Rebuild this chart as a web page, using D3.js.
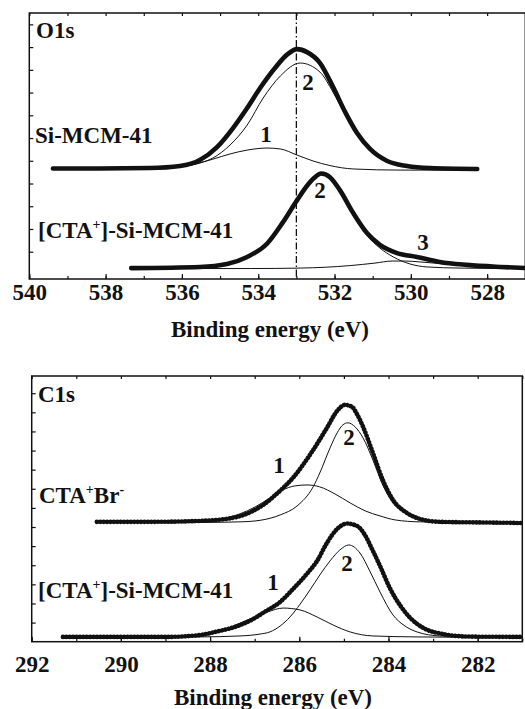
<!DOCTYPE html>
<html>
<head>
<meta charset="utf-8">
<script src="https://cdn.jsdelivr.net/npm/d3@7"></script>
<style>
  html, body { margin: 0; padding: 0; background: #fff; }
  svg { display: block; }
  .lbl { font-family: "Liberation Serif", "Times New Roman", serif; font-weight: bold; font-size: 23px; fill: #111; }
  .tick text { font-family: "Liberation Serif", "Times New Roman", serif; font-weight: bold; font-size: 23px; fill: #111; }
</style>
</head>
<body>
<script>
"use strict";

// ---- data: [binding energy (eV), intensity (a.u., offset per spectrum)] ----
var o1sTickLabels = [540, 538, 536, 534, 532, 530, 528];
var c1sTickLabels = [292, 290, 288, 286, 284, 282];
var o1sRefEnergy = 533;

var o1sSiMcm = [[539.38,4.66],[538.15,4.66],[536.84,4.68],[536.05,4.77],[535.53,5.03],[535.08,5.60],[534.66,6.44],[534.29,7.32],[533.95,8.20],[533.56,9.08],[533.23,9.69],[532.98,9.91],[532.72,9.78],[532.38,9.30],[532.04,8.25],[531.72,7.14],[531.41,6.22],[531.07,5.52],[530.62,4.99],[530.10,4.77],[529.50,4.68],[528.26,4.64]];
var o1sSiMcmPeak1 = [[539.38,4.64],[536.84,4.65],[536.05,4.73],[535.19,5.07],[534.74,5.30],[534.29,5.47],[533.77,5.56],[533.42,5.52],[532.98,5.25],[532.56,4.99],[532.12,4.79],[531.51,4.64],[530.28,4.59],[528.26,4.59]];
var o1sSiMcmPeak2 = [[539.38,4.64],[536.84,4.64],[536.05,4.73],[535.53,4.90],[535.19,5.12],[534.74,5.69],[534.29,6.57],[533.87,7.76],[533.42,8.73],[532.90,9.30],[532.38,8.90],[532.04,8.02],[531.72,7.01],[531.41,6.13],[531.07,5.47],[530.62,4.99],[530.10,4.77],[529.50,4.66],[528.26,4.64]];

var o1sCta = [[537.33,0.28],[535.53,0.33],[534.82,0.46],[534.29,0.77],[533.77,1.35],[533.35,2.30],[532.98,3.27],[532.72,3.90],[532.53,4.25],[532.35,4.44],[532.12,4.28],[531.86,3.71],[531.51,2.70],[531.15,1.82],[530.81,1.30],[530.36,0.94],[529.84,0.77],[529.24,0.55],[528.53,0.42],[527.66,0.33],[526.98,0.28]];
var o1sCtaPeak2 = [[537.33,0.26],[535.53,0.31],[534.82,0.44],[534.29,0.75],[533.77,1.33],[533.35,2.28],[532.98,3.25],[532.72,3.87],[532.53,4.21],[532.35,4.40],[532.12,4.24],[531.86,3.67],[531.51,2.66],[531.15,1.73],[530.81,1.16],[530.46,0.77],[530.02,0.46],[529.58,0.33],[528.71,0.28],[526.98,0.26]];
var o1sCtaPeak3 = [[537.33,0.26],[534.21,0.26],[532.90,0.28],[531.59,0.39],[530.94,0.50],[530.49,0.59],[530.15,0.59],[529.76,0.55],[529.24,0.48],[528.53,0.37],[527.66,0.31],[526.98,0.27]];

var c1sCtaBr = [[290.54,6.27],[289.35,6.27],[288.23,6.32],[287.49,6.48],[287.18,6.69],[286.81,7.16],[286.43,7.90],[286.14,8.58],[285.76,9.78],[285.38,11.19],[285.15,12.08],[284.98,12.39],[284.82,12.29],[284.71,11.92],[284.57,11.24],[284.35,9.88],[284.13,8.47],[283.90,7.42],[283.59,6.74],[283.29,6.42],[282.85,6.27],[281.95,6.24],[281.00,6.21]];
var c1sCtaBrPeak1 = [[290.54,6.24],[288.67,6.27],[287.78,6.42],[287.33,6.69],[286.99,7.05],[286.66,7.52],[286.37,7.94],[286.10,8.15],[285.83,8.20],[285.54,8.10],[285.20,7.73],[284.86,7.26],[284.52,6.84],[284.19,6.58],[283.85,6.37],[283.29,6.27],[281.00,6.24]];
var c1sCtaBrPeak2 = [[290.54,6.24],[288.23,6.24],[287.33,6.27],[286.88,6.35],[286.43,6.63],[286.05,7.10],[285.69,8.10],[285.54,8.83],[285.31,10.14],[285.15,10.93],[285.02,11.35],[284.91,11.45],[284.75,11.24],[284.57,10.66],[284.35,9.51],[284.13,8.20],[283.90,7.26],[283.59,6.69],[283.29,6.37],[282.85,6.27],[281.00,6.24]];

var c1sCtaMcm = [[291.30,0.25],[288.97,0.25],[288.23,0.35],[287.85,0.53],[287.49,0.74],[287.11,1.09],[286.77,1.57],[286.43,2.08],[286.14,2.76],[285.83,3.55],[285.60,4.23],[285.38,5.17],[285.15,5.90],[284.93,6.18],[284.71,6.06],[284.53,5.59],[284.37,4.85],[284.19,3.96],[283.96,2.76],[283.73,1.87],[283.51,1.24],[283.22,0.72],[282.77,0.40],[282.23,0.27],[281.00,0.25]];
var c1sCtaMcmPeak1 = [[291.30,0.22],[289.35,0.25],[288.45,0.35],[287.85,0.51],[287.11,1.19],[286.72,1.55],[286.36,1.76],[285.98,1.66],[285.60,1.29],[285.24,0.87],[284.86,0.51],[284.35,0.30],[283.36,0.25],[281.00,0.22]];
var c1sCtaMcmPeak2 = [[291.30,0.22],[288.23,0.25],[287.33,0.30],[286.88,0.40],[286.66,0.51],[286.43,0.82],[286.21,1.29],[285.98,1.97],[285.76,2.71],[285.54,3.49],[285.31,4.23],[285.09,4.80],[284.89,5.06],[284.64,4.64],[284.42,3.70],[284.19,2.60],[283.90,1.40],[283.63,0.82],[283.36,0.51],[282.85,0.30],[282.18,0.25],[281.00,0.22]];

var W = 525, H = 709;
var svg = d3.select("body").append("svg").attr("width", W).attr("height", H);

// draws one XPS panel: frame, inward ticks, spectra, fitted components
function drawPanel(cfg) {
    var x = d3.scaleLinear().domain(cfg.xDomain).range([cfg.left, cfg.right]);
    var y = d3.scaleLinear().domain(cfg.yDomain).range([cfg.bottom, cfg.top]);
    var g = svg.append("g");
    var minor = d3.range(cfg.xDomain[0], cfg.xDomain[1] - 0.5, -1);

    var line = d3.line()
        .x(function (d) { return x(d[0]); })
        .y(function (d) { return y(d[1]); })
        .curve(d3.curveMonotoneX);

    if (cfg.refEnergy) {
        g.append("line")
            .attr("x1", x(cfg.refEnergy)).attr("x2", x(cfg.refEnergy))
            .attr("y1", cfg.top).attr("y2", cfg.bottom)
            .attr("stroke", "#111").attr("stroke-width", 1.3)
            .attr("stroke-dasharray", "7,2.5,1.5,2.5");
    }

    cfg.fits.forEach(function (s) {
        g.append("path").datum(s)
            .attr("d", line).attr("fill", "none")
            .attr("stroke", "#111").attr("stroke-width", 1);
    });
    cfg.spectra.forEach(function (s) {
        var p = g.append("path").datum(s)
            .attr("d", line).attr("fill", "none")
            .attr("stroke", "#111").attr("stroke-width", 4.6)
            .attr("stroke-linecap", "round").attr("stroke-linejoin", "round");
        // the C1s scans show as a chain of dots
        if (cfg.dotted) p.attr("stroke-dasharray", "0.1,3.3");
    });

    var axes = [
        g.append("g").attr("transform", "translate(0," + cfg.bottom + ")")
            .call(d3.axisBottom(x).tickValues(cfg.tickLabels).tickSize(-5).tickSizeOuter(0)
                .tickPadding(cfg.tickPad).tickFormat(d3.format("d"))),
        g.append("g").attr("transform", "translate(0," + cfg.bottom + ")")
            .call(d3.axisBottom(x).tickValues(minor).tickSize(-3).tickSizeOuter(0).tickFormat("")),
        g.append("g").attr("transform", "translate(0," + cfg.top + ")")
            .call(d3.axisTop(x).tickValues(minor).tickSize(-3).tickSizeOuter(0).tickFormat("")),
        g.append("g").attr("transform", "translate(" + cfg.left + ",0)")
            .call(d3.axisLeft(y).tickValues(cfg.yTicks).tickSize(-4).tickSizeOuter(0).tickFormat(""))
    ];
    axes.forEach(function (a) {
        a.select(".domain").remove();
        a.selectAll(".tick line").attr("stroke", "#111").attr("stroke-width", 1.2);
    });

    g.append("rect")
        .attr("x", cfg.left).attr("y", cfg.top)
        .attr("width", cfg.right - cfg.left).attr("height", cfg.bottom - cfg.top)
        .attr("fill", "none").attr("stroke", "#111").attr("stroke-width", 1.5);

    g.append("text").attr("class", "lbl")
        .attr("x", cfg.titleX).attr("y", cfg.titleY)
        .attr("text-anchor", "middle")
        .text("Binding energy (eV)");

    cfg.labels.forEach(function (l) {
        var t = g.append("text").attr("class", "lbl")
            .attr("x", l.x).attr("y", l.y)
            .attr("text-anchor", l.anchor || "start");
        l.parts.forEach(function (p) {
            var ts = t.append("tspan").text(p.t);
            if (p.sup) ts.attr("font-size", 14).attr("dy", -9);
            if (p.down) ts.attr("dy", 9);
        });
    });
}

drawPanel({
    xDomain: [540, 527], yDomain: [-0.2, 11.5],
    left: 29.3, right: 525.3, top: 13, bottom: 279,
    yTicks: d3.range(1, 12), tickLabels: o1sTickLabels, tickPad: 5,
    refEnergy: o1sRefEnergy,
    spectra: [o1sSiMcm, o1sCta],
    fits: [o1sSiMcmPeak1, o1sSiMcmPeak2, o1sCtaPeak2, o1sCtaPeak3],
    titleX: 270, titleY: 337,
    labels: [
        { x: 36, y: 38, parts: [{ t: "O1s" }] },
        { x: 35, y: 143, parts: [{ t: "Si-MCM-41" }] },
        { x: 38, y: 238, parts: [{ t: "[CTA" }, { t: "+", sup: true }, { t: "]-Si-MCM-41", down: true }] },
        { x: 266, y: 142, anchor: "middle", parts: [{ t: "1" }] },
        { x: 308, y: 90, anchor: "middle", parts: [{ t: "2" }] },
        { x: 320, y: 198, anchor: "middle", parts: [{ t: "2" }] },
        { x: 423, y: 250, anchor: "middle", parts: [{ t: "3" }] }
    ]
});

drawPanel({
    xDomain: [292, 281], yDomain: [0, 13.9],
    left: 31.7, right: 522.3, top: 376, bottom: 641.7,
    yTicks: d3.range(1, 14), tickLabels: c1sTickLabels, tickPad: 14,
    dotted: true,
    spectra: [c1sCtaBr, c1sCtaMcm],
    fits: [c1sCtaBrPeak1, c1sCtaBrPeak2, c1sCtaMcmPeak1, c1sCtaMcmPeak2],
    titleX: 273, titleY: 705,
    labels: [
        { x: 38, y: 402, parts: [{ t: "C1s" }] },
        { x: 39, y: 503, parts: [{ t: "CTA" }, { t: "+", sup: true }, { t: "Br", down: true }, { t: "-", sup: true }] },
        { x: 38, y: 598, parts: [{ t: "[CTA" }, { t: "+", sup: true }, { t: "]-Si-MCM-41", down: true }] },
        { x: 279, y: 473, anchor: "middle", parts: [{ t: "1" }] },
        { x: 349, y: 445, anchor: "middle", parts: [{ t: "2" }] },
        { x: 273, y: 590, anchor: "middle", parts: [{ t: "1" }] },
        { x: 347, y: 571, anchor: "middle", parts: [{ t: "2" }] }
    ]
});
</script>
</body>
</html>
